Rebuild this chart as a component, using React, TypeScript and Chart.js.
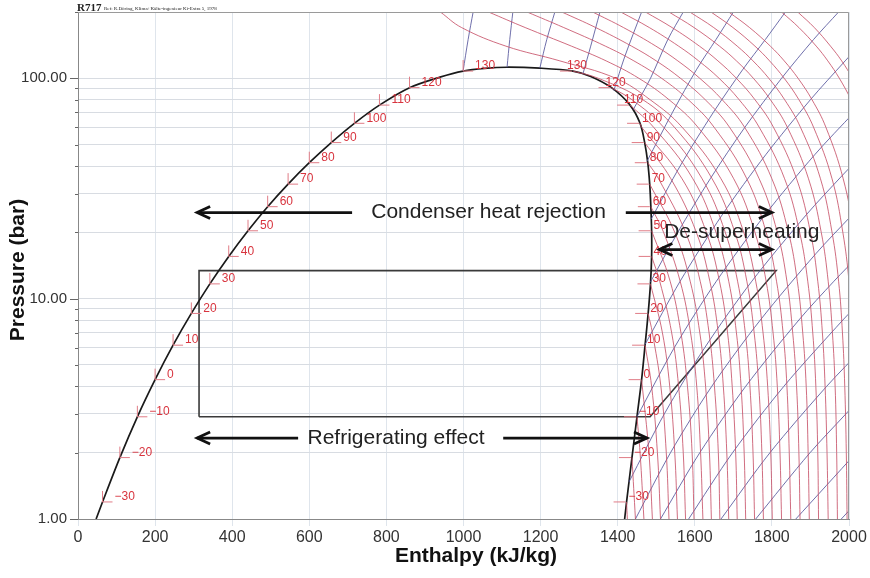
import React, { useEffect, useRef } from "react";
import { Chart, registerables } from "chart.js";

Chart.register(...registerables);
Chart.defaults.font.family = '"Liberation Sans", Arial, Helvetica, sans-serif';

// ---------- Saturation (dome) data: T [°C], P [bar], h liquid / vapour [kJ/kg]
const satT = [-30, -20, -10, 0, 10, 20, 30, 40, 50, 60, 70, 80, 90, 100, 110, 120, 130];
const satP = [1.195, 1.9, 2.91, 4.29, 6.15, 8.57, 11.67, 15.55, 20.33, 26.15, 33.1, 41.4, 51.1, 62.5, 75.6, 90.7, 107.9];
const satHf = [63.6, 108.6, 154, 200, 246.6, 294, 342, 391, 441, 492, 545, 600, 657, 717, 782, 860, 999];
const satHg = [1423, 1437, 1450, 1462, 1471, 1479, 1485, 1488, 1488, 1486, 1483, 1478, 1470, 1458, 1432, 1384, 1284];
const domeBaseH = [47, 1418];
const domeBaseP = [1.0, 1.0];
const liqNearCritH = [939];
const liqNearCritP = [101.3];
const critTopH = [1055, 1113, 1198];
const critTopP = [111, 112.3, 111.2];
const vapNearCritH = [1330];
const vapNearCritP = [102];

// ---------- Isotherms (red): h at fixed pressure levels
const isoLevels = [1, 2, 4, 7, 12, 20, 35, 60, 80, 100, 120, 140, 170, 200];
const isoTemps = [-30, -20, -10, 0, 10, 20, 30, 40, 50, 60, 70, 80, 90, 100, 110, 120, 130, 140, 150, 160, 170, 180, 190, 200, 210, 220, 230, 240, 250, 260, 270, 280, 290, 300, 310];
const N = null;
const isoH: (number | null)[][] = [
  [1425],
  [1446],
  [1468, 1458],
  [1490, 1481],
  [1511, 1503, 1488],
  [1533, 1526, 1512, 1490],
  [1555, 1548, 1535, 1516],
  [1576, 1570, 1558, 1540, 1509],
  [1598, 1593, 1581, 1564, 1536],
  [1621, 1615, 1605, 1589, 1562, 1519],
  [1643, 1638, 1628, 1613, 1588, 1548],
  [1665, 1661, 1651, 1637, 1614, 1576, 1506],
  [1688, 1683, 1674, 1661, 1639, 1604, 1538],
  [1710, 1706, 1697, 1685, 1664, 1630, 1567, 1462],
  [1732, 1728, 1720, 1708, 1688, 1655, 1595, 1493],
  [1755, 1751, 1743, 1731, 1711, 1679, 1619, 1519, 1437],
  [1778, 1774, 1766, 1754, 1735, 1704, 1645, 1547, 1465, 1350],
  [1801, 1797, 1789, 1777, 1758, 1727, 1668, 1567, 1484, 1395, 1250, 1110, 995, 940],
  [1825, 1821, 1814, 1803, 1785, 1756, 1701, 1608, 1533, 1455, 1370, 1280, 1160, 1065],
  [1849, 1845, 1839, 1829, 1812, 1785, 1735, 1650, 1583, 1514, 1442, 1368, 1260, 1165],
  [1873, 1870, 1864, 1854, 1839, 1814, 1767, 1690, 1627, 1563, 1500, 1436, 1343, 1255],
  [1897, 1894, 1889, 1880, 1866, 1843, 1800, 1729, 1671, 1613, 1556, 1499, 1415, 1335],
  [1921, 1919, 1914, 1906, 1893, 1872, 1833, 1767, 1715, 1663, 1610, 1558, 1482, 1408],
  [1946, 1943, 1938, 1931, 1919, 1900, 1864, 1804, 1756, 1708, 1660, 1612, 1541, 1472],
  [1970, 1968, 1964, 1957, 1946, 1928, 1895, 1840, 1796, 1752, 1708, 1664, 1598, 1533],
  [1995, 1993, 1989, 1983, 1973, 1956, 1926, 1874, 1833, 1792, 1751, 1710, 1649, 1587],
  [2020, 2019, 2015, 2009, 2000, 1984, 1956, 1908, 1870, 1832, 1794, 1756, 1699, 1642],
  [2046, 2044, 2041, 2035, 2026, 2012, 1985, 1940, 1904, 1868, 1832, 1796, 1742, 1688],
  [2072, 2070, 2067, 2062, 2053, 2040, 2014, 1971, 1938, 1903, 1869, 1835, 1784, 1733],
  [2097, 2096, 2093, 2088, 2080, 2067, 2043, 2003, 1971, 1939, 1907, 1875, 1827, 1779],
  [N, N, N, N, N, N, 2072, 2035, 2005, 1975, 1945, 1915, 1870, 1825],
  [N, N, N, N, N, N, N, 2066, 2037, 2009, 1981, 1952, 1910, 1867],
  [N, N, N, N, N, N, N, N, 2069, 2042, 2015, 1988, 1947, 1907],
  [N, N, N, N, N, N, N, N, N, 2075, 2049, 2024, 1985, 1947],
  [N, N, N, N, N, N, N, N, N, N, N, 2058, 2022, 1985],
];

// ---------- Isentropes (blue): [h, P] points
const isenS = [3.25, 3.5, 3.75, 4.0, 4.25, 4.5, 4.75, 5.0, 5.25, 5.5, 5.75, 6.0, 6.25, 6.5, 6.75, 7.0, 7.25, 7.5, 7.75];
const isenPts: number[][][] = [
  [[999, 108], [1012, 150], [1025, 200]],
  [[1113, 112.3], [1120, 150], [1128, 200]],
  [[1198, 111.2], [1216, 150], [1237, 200]],
  [[1310, 105], [1330, 140], [1354, 200]],
  [[1390, 88], [1418, 125], [1462, 200]],
  [[1440, 72], [1485, 100], [1530, 150], [1570, 200]],
  [[1476, 42], [1542, 70], [1605, 110], [1655, 150], [1700, 200]],
  [[1487, 23], [1562, 40], [1648, 70], [1725, 110], [1783, 150], [1835, 200]],
  [[1485, 11.9], [1556, 20], [1640, 35], [1730, 60], [1825, 100], [1908, 150], [1973, 200]],
  [[1471, 6.2], [1562, 12], [1671, 24], [1784, 45], [1900, 80], [1990, 120], [2017, 135]],
  [[1450, 2.91], [1547, 6], [1656, 12], [1782, 24], [1911, 45], [2013, 70]],
  [[1429, 1.47], [1521, 3], [1626, 6], [1748, 12], [1889, 24], [1981, 36], [2006, 40]],
  [[1446, 1], [1537, 2], [1644, 4], [1770, 8], [1914, 16], [2008, 24]],
  [[1511, 1], [1613, 2], [1732, 4], [1870, 8], [1961, 12], [2030, 16]],
  [[1584, 1], [1698, 2], [1831, 4], [1984, 8], [2012, 9]],
  [[1668, 1], [1795, 2], [1942, 4], [2038, 6]],
  [[1758, 1], [1899, 2], [1992, 3], [2057, 4]],
  [[1862, 1], [2019, 2]],
  [[1980, 1], [2140, 2]],
];

// ---------- Refrigeration cycle
const cycleH = [314, 314, 1811, 1484, 314];
const cycleP = [2.91, 13.4, 13.4, 2.91, 2.91];

// ---------- Annotations
const arrowFromH = [711, 1421, 1508, 571, 1103];
const arrowToH = [309, 1800, 1800, 309, 1476];
const arrowP = [24.6, 24.6, 16.7, 2.33, 2.33];
const arrowBoth = [false, false, true, false, false];
const noteText = ["Condenser heat rejection", "De-superheating", "Refrigerating effect"];
const noteH = [1065, 1722, 825];
const noteP = [24.6, 20, 2.33];

// ---------- Axis ticks
const yTickVals = [1, 2, 3, 4, 5, 6, 7, 8, 9, 10, 20, 30, 40, 50, 60, 70, 80, 90, 100, 200];
const yLabelVals = [1, 10, 100];

const fmtT = (t: number) => (t < 0 ? "\u2212" + Math.abs(t) : String(t));

function buildDatasets() {
  const ds: any[] = [];
  const base = { showLine: true, pointRadius: 0, fill: false, clip: 0, parsing: false };
  isoTemps.forEach((t, i) => {
    const pts: { x: number; y: number }[] = [];
    isoH[i].forEach((h, j) => {
      if (h !== null && h !== undefined) pts.push({ x: h, y: isoLevels[j] });
    });
    const si = satT.indexOf(t);
    if (si >= 0) pts.push({ x: satHg[si], y: satP[si] });
    ds.push({ ...base, data: pts, borderColor: "rgba(196,72,96,0.8)", borderWidth: 1, tension: 0.4 });
  });
  isenS.forEach((_, i) => {
    ds.push({
      ...base,
      data: isenPts[i].map(([h, p]) => ({ x: h, y: p })),
      borderColor: "rgba(86,86,156,0.85)",
      borderWidth: 1,
      tension: 0.3,
    });
  });
  const dome: { x: number; y: number }[] = [];
  dome.push({ x: domeBaseH[0], y: domeBaseP[0] });
  for (let i = 0; i < satT.length - 1; i++) dome.push({ x: satHf[i], y: satP[i] });
  liqNearCritH.forEach((h, i) => dome.push({ x: h, y: liqNearCritP[i] }));
  dome.push({ x: satHf[satT.length - 1], y: satP[satT.length - 1] });
  critTopH.forEach((h, i) => dome.push({ x: h, y: critTopP[i] }));
  dome.push({ x: satHg[satT.length - 1], y: satP[satT.length - 1] });
  vapNearCritH.forEach((h, i) => dome.push({ x: h, y: vapNearCritP[i] }));
  for (let i = satT.length - 2; i >= 0; i--) dome.push({ x: satHg[i], y: satP[i] });
  dome.push({ x: domeBaseH[1], y: domeBaseP[1] });
  ds.push({ ...base, data: dome, borderColor: "#1a1a1a", borderWidth: 1.7, tension: 0.3 });
  ds.push({
    ...base,
    data: cycleH.map((h, i) => ({ x: h, y: cycleP[i] })),
    borderColor: "#3a3a3a",
    borderWidth: 1.6,
    tension: 0,
  });
  return ds;
}

const overlayPlugin = {
  id: "overlay",
  afterDraw(chart: any) {
    const { ctx, chartArea: a } = chart;
    const xs = chart.scales.x;
    const ys = chart.scales.y;
    const X = (h: number) => xs.getPixelForValue(h);
    const Y = (p: number) => ys.getPixelForValue(p);
    ctx.save();

    // frame top/right
    ctx.strokeStyle = "#9a9a9a";
    ctx.lineWidth = 1;
    ctx.beginPath();
    ctx.moveTo(a.left, Math.round(a.top) + 0.5);
    ctx.lineTo(Math.round(a.right) - 0.5, Math.round(a.top) + 0.5);
    ctx.lineTo(Math.round(a.right) - 0.5, a.bottom);
    ctx.stroke();

    // y tick marks
    ctx.strokeStyle = "#666";
    yTickVals.forEach((v) => {
      const y = Math.round(Y(v)) + 0.5;
      const len = yLabelVals.includes(v) ? 8 : 3;
      ctx.beginPath();
      ctx.moveTo(a.left - len, y);
      ctx.lineTo(a.left, y);
      ctx.stroke();
    });

    // temperature labels on saturation curve
    ctx.font = '12px "Liberation Sans", Arial, sans-serif';
    ctx.textBaseline = "middle";
    ctx.textAlign = "left";
    satT.forEach((t, i) => {
      const lx = X(satHf[i]);
      const ly = Y(satP[i]);
      ctx.strokeStyle = "#e07c86";
      ctx.lineWidth = 1;
      ctx.beginPath();
      ctx.moveTo(lx, ly - 11);
      ctx.lineTo(lx, ly);
      ctx.lineTo(lx + 10, ly);
      ctx.stroke();
      ctx.fillStyle = "#d8343e";
      ctx.fillText(fmtT(t), lx + 12, ly - 5);

      const vx = X(satHg[i]);
      const vy = Y(satP[i]);
      ctx.beginPath();
      ctx.moveTo(vx - 13, vy);
      ctx.lineTo(vx - 1, vy);
      ctx.stroke();
      ctx.fillText(fmtT(t), vx + (t >= 110 ? -6 : 2), vy - 5);
    });

    // arrows
    ctx.strokeStyle = "#111";
    ctx.lineWidth = 2.8;
    ctx.lineJoin = "miter";
    const head = (tx: number, ty: number, dir: number) => {
      ctx.beginPath();
      ctx.moveTo(tx - dir * 13, ty - 6);
      ctx.lineTo(tx, ty);
      ctx.lineTo(tx - dir * 13, ty + 6);
      ctx.stroke();
    };
    arrowFromH.forEach((fh, i) => {
      const x1 = X(fh);
      const x2 = X(arrowToH[i]);
      const y = Y(arrowP[i]);
      ctx.beginPath();
      ctx.moveTo(x1, y);
      ctx.lineTo(x2, y);
      ctx.stroke();
      const dir = x2 > x1 ? 1 : -1;
      head(x2, y, dir);
      if (arrowBoth[i]) head(x1, y, -dir);
    });

    // notes
    ctx.fillStyle = "#222";
    ctx.font = '21px "Liberation Sans", Arial, sans-serif';
    ctx.textAlign = "center";
    ctx.textBaseline = "middle";
    noteText.forEach((t, i) => ctx.fillText(t, X(noteH[i]), Y(noteP[i])));

    // axis titles
    ctx.fillStyle = "#111";
    ctx.font = 'bold 21px "Liberation Sans", Arial, sans-serif';
    ctx.fillText("Enthalpy (kJ/kg)", 476, 556);
    ctx.save();
    ctx.translate(18, 270);
    ctx.rotate(-Math.PI / 2);
    ctx.fillText("Pressure (bar)", 0, 0);
    ctx.restore();

    // header
    ctx.textAlign = "left";
    ctx.textBaseline = "alphabetic";
    ctx.fillStyle = "#222";
    ctx.font = 'bold 11px "Liberation Serif", "Times New Roman", serif';
    ctx.fillText("R717", 77, 11);
    ctx.font = '5px "Liberation Serif", "Times New Roman", serif';
    ctx.fillText("Ref: R.D\u00f6ring, Klima+K\u00e4lte-ingenieur Ki-Extra 5, 1978", 104, 10);

    ctx.restore();
  },
};

export default function App() {
  const ref = useRef<HTMLCanvasElement>(null);
  useEffect(() => {
    const canvas = ref.current;
    if (!canvas) return;
    const chart = new Chart(canvas, {
      type: "scatter",
      data: { datasets: buildDatasets() },
      options: {
        responsive: false,
        animation: false,
        events: [],
        layout: { padding: { left: 0, right: 21, top: 12, bottom: 5 } },
        plugins: { legend: { display: false }, tooltip: { enabled: false } },
        elements: { point: { radius: 0 } },
        scales: {
          x: {
            type: "linear",
            min: 0,
            max: 2000,
            ticks: {
              stepSize: 200,
              color: "#333",
              font: { size: 16 },
              padding: 2,
              maxRotation: 0,
              autoSkip: false,
              callback: (v: any) => String(v),
            },
            grid: { color: "#dfe5ec", lineWidth: 1, tickLength: 7, tickColor: "#dfe5ec" },
            border: { color: "#888" },
            afterFit: (s: any) => {
              s.height = 54;
            },
          },
          y: {
            type: "logarithmic",
            min: 1,
            max: 200,
            afterBuildTicks: (s: any) => {
              s.ticks = yTickVals.map((v) => ({ value: v }));
            },
            ticks: {
              autoSkip: false,
              color: "#333",
              font: { size: 15 },
              padding: 3,
              callback: (v: any) => (yLabelVals.includes(Number(v)) ? Number(v).toFixed(2) : ""),
            },
            grid: { color: "#d8dce2", drawTicks: true, tickLength: 8, tickColor: "rgba(0,0,0,0)" },
            border: { color: "#888" },
            afterFit: (s: any) => {
              s.width = 78;
            },
          },
        },
      } as any,
      plugins: [overlayPlugin],
    });
    return () => chart.destroy();
  }, []);
  return (
    <div style={{ position: "fixed", left: 0, top: 0, width: 870, height: 578, background: "#fff" }}>
      <canvas ref={ref} width={870} height={578} style={{ width: 870, height: 578, display: "block" }} />
    </div>
  );
}
